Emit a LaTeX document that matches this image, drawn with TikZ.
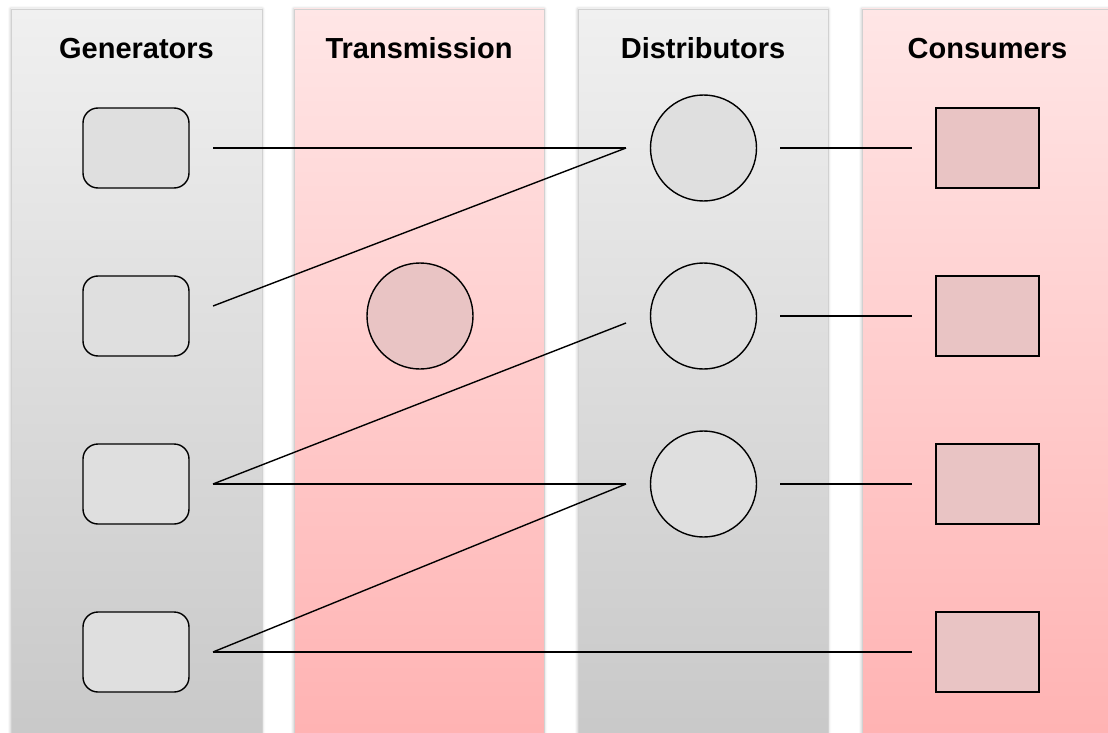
\documentclass[tikz,border=0pt]{standalone}
\usepackage{fontspec}
\setmainfont{Liberation Sans}
\usetikzlibrary{shadows.blur}
\definecolor{lanegraytop}{HTML}{F0F0F0}
\definecolor{lanegraybot}{HTML}{C8C8C8}
\definecolor{lanepinktop}{HTML}{FFE6E6}
\definecolor{lanepinkbot}{HTML}{FFB2B2}
\definecolor{nodegray}{HTML}{DFDFDF}
\definecolor{nodepink}{HTML}{E9C4C4}
\begin{document}
\begin{tikzpicture}[x=1pt,y=-1pt,
  lane/.style={draw=black!18, line width=0.6pt,
    blur shadow={shadow xshift=0pt, shadow yshift=0pt, shadow blur radius=3pt, shadow opacity=30}},
  graylane/.style={lane, top color=lanegraytop, bottom color=lanegraybot},
  pinklane/.style={lane, top color=lanepinktop, bottom color=lanepinkbot},
  lanetitle/.style={anchor=base, font=\bfseries\fontsize{29}{34}\selectfont},
  genbox/.style={draw, line width=1.4pt, rounded corners=15pt, fill=nodegray,
    minimum width=106pt, minimum height=80pt, inner sep=0pt},
  distnode/.style={circle, draw, line width=1.4pt, fill=nodegray,
    minimum size=106pt, inner sep=0pt},
  transnode/.style={distnode, fill=nodepink},
  consbox/.style={draw, line width=1.4pt, fill=nodepink,
    minimum width=103pt, minimum height=80pt, inner sep=0pt},
  wire/.style={line width=1.4pt}]
\useasboundingbox (0,0) rectangle (1108,733);
\clip (0,0) rectangle (1108,733);

% swim lanes
\path[graylane] (11,9) rectangle (262,745);
\path[pinklane] (294,9) rectangle (544,745);
\path[graylane] (578,9) rectangle (828,745);
\path[pinklane] (862,9) rectangle (1114,745);

% lane headings
\node[lanetitle] (tgen)  at (136.5,59) {Generators};
\node[lanetitle] (ttra)  at (419,59)   {Transmission};
\node[lanetitle] (tdist) at (703,59)   {Distributors};
\node[lanetitle] (tcons) at (987.5,59) {Consumers};

% generators
\node[genbox] (g1) at (136,148) {};
\node[genbox] (g2) at (136,316) {};
\node[genbox] (g3) at (136,484) {};
\node[genbox] (g4) at (136,652) {};

% transmission
\node[transnode] (t1) at (420,316) {};

% distributors
\node[distnode] (d1) at (703.5,148) {};
\node[distnode] (d2) at (703.5,316) {};
\node[distnode] (d3) at (703.5,484) {};

% consumers
\node[consbox] (c1) at (987.5,148) {};
\node[consbox] (c2) at (987.5,316) {};
\node[consbox] (c3) at (987.5,484) {};
\node[consbox] (c4) at (987.5,652) {};

% connection ports, set a short gap away from each node
\coordinate (g1o) at (213,148);
\coordinate (g2o) at (213,306);
\coordinate (g3o) at (213,484);
\coordinate (g4o) at (213,652);
\coordinate (d1i) at (626,148);
\coordinate (d2i) at (626,323);
\coordinate (d3i) at (626,484);
\coordinate (d1o) at (780,148);
\coordinate (d2o) at (780,316);
\coordinate (d3o) at (780,484);
\coordinate (c1i) at (912,148);
\coordinate (c2i) at (912,316);
\coordinate (c3i) at (912,484);
\coordinate (c4i) at (912,652);

% connectors
\draw[wire] (g1o) -- (d1i);
\draw[wire] (g2o) -- (d1i);
\draw[wire] (g3o) -- (d2i);
\draw[wire] (g3o) -- (d3i);
\draw[wire] (g4o) -- (d3i);
\draw[wire] (g4o) -- (c4i);
\draw[wire] (d1o) -- (c1i);
\draw[wire] (d2o) -- (c2i);
\draw[wire] (d3o) -- (c3i);
\end{tikzpicture}
\end{document}
